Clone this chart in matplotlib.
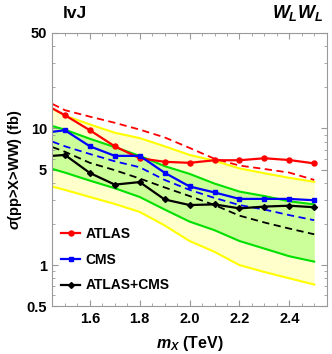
import matplotlib
matplotlib.use("Agg")
import matplotlib.pyplot as plt
from matplotlib.ticker import FixedLocator, NullFormatter, MultipleLocator

plt.rcParams['font.family'] = ['Liberation Sans', 'DejaVu Sans']
plt.rcParams['mathtext.fontset'] = 'custom'
plt.rcParams['mathtext.it'] = 'Liberation Sans:bold:italic'
plt.rcParams['mathtext.rm'] = 'Liberation Sans:bold'
plt.rcParams['mathtext.bf'] = 'Liberation Sans:bold'

# Dados
mass = [1.45, 1.5, 1.6, 1.7, 1.8, 1.9, 2.0, 2.1, 2.2, 2.3, 2.4, 2.5]

atlas_obs = [14.0, 12.5, 9.7, 7.4, 6.05, 5.7, 5.6, 5.85, 5.85, 6.05, 5.87, 5.55]
atlas_exp = [15.1, 13.6, 12.2, 11.0, 9.8, 8.6, 7.2, 6.0, 5.35, 5.05, 4.75, 4.2]
cms_obs = [9.45, 9.7, 7.4, 6.3, 6.3, 4.74, 3.76, 3.4, 3.05, 3.05, 3.05, 2.98]
cms_exp = [8.0, 7.4, 6.5, 5.75, 5.2, 4.2, 3.55, 3.1, 2.75, 2.55, 2.32, 2.13]
comb_obs = [6.3, 6.4, 4.72, 3.88, 4.05, 3.02, 2.75, 2.78, 2.6, 2.68, 2.72, 2.65]
comb_exp = [7.3, 6.75, 5.6, 4.95, 4.3, 3.7, 3.2, 2.75, 2.3, 2.05, 1.85, 1.68]

band2_up = [14.0, 12.4, 10.7, 9.3, 8.5, 7.4, 6.4, 5.8, 5.1, 4.7, 4.35, 4.07]
band1_up = [10.4, 9.8, 8.4, 7.3, 6.3, 5.3, 4.65, 3.95, 3.45, 3.2, 2.93, 2.78]
band1_dn = [5.05, 4.75, 4.15, 3.65, 3.15, 2.55, 2.08, 1.8, 1.5, 1.32, 1.16, 1.06]
band2_dn = [3.75, 3.55, 3.15, 2.8, 2.45, 1.95, 1.5, 1.25, 1.0, 0.89, 0.8, 0.72]

YELLOW_FILL = '#ffffcc'
GREEN_FILL = '#ccff99'
YELLOW_LINE = '#ffff00'
GREEN_LINE = '#00e000'

fig = plt.figure(figsize=(3.32, 3.54), dpi=100)
ax = fig.add_axes([0.158, 0.135, 0.826, 0.772])

# Bandas de 1 e 2 sigma
ax.fill_between(mass, band2_dn, band2_up, color=YELLOW_FILL, lw=0)
ax.fill_between(mass, band1_dn, band1_up, color=GREEN_FILL, lw=0)
for b in (band2_up, band2_dn):
    ax.plot(mass, b, color=YELLOW_LINE, lw=1.5)
for b in (band1_up, band1_dn):
    ax.plot(mass, b, color=GREEN_LINE, lw=1.5)

# Curvas esperadas (tracejadas)
ax.plot(mass, atlas_exp, color='red', lw=1.3, ls=(0, (4, 2.5)))
ax.plot(mass, cms_exp, color='blue', lw=1.3, ls=(0, (4, 2.5)))
ax.plot(mass, comb_exp, color='black', lw=1.3, ls=(0, (4, 2.5)))

# Curvas observadas
series = [
    (atlas_obs, 'red', 'o', 3.6, 'ATLAS'),
    (cms_obs, 'blue', 's', 2.6, 'CMS'),
    (comb_obs, 'black', 'D', 3.0, 'ATLAS+CMS'),
]
for vals, c, m, ms, lab in series:
    ax.plot(mass[:2], vals[:2], color=c, lw=1.6)
    ax.plot(mass[1:], vals[1:], color=c, lw=1.6, marker=m, ms=ms, label=lab)

ax.set_yscale('log')
ax.set_xlim(1.45, 2.55)
ax.set_ylim(0.5, 50)

ax.yaxis.set_major_locator(FixedLocator([0.5, 1, 5, 10, 50]))
ax.set_yticklabels(['0.5', '1', '5', '10', '50'])
minors = [v * d for d in (0.1, 1, 10) for v in range(2, 10)]
ax.yaxis.set_minor_locator(FixedLocator(minors))
ax.yaxis.set_minor_formatter(NullFormatter())
ax.xaxis.set_major_locator(FixedLocator([1.6, 1.8, 2.0, 2.2, 2.4]))
ax.set_xticklabels(['1.6', '1.8', '2.0', '2.2', '2.4'])
ax.xaxis.set_minor_locator(MultipleLocator(0.05))

for s in ax.spines.values():
    s.set_color('#999999')
    s.set_linewidth(0.8)
ax.tick_params(which='both', direction='in', top=True, right=True, color='#999999',
               labelsize=10.5, pad=4)
ax.tick_params(which='major', length=4, width=0.8)
ax.tick_params(which='minor', length=2.5, width=0.6)
for lbl in ax.get_xticklabels() + ax.get_yticklabels():
    lbl.set_fontweight('bold')

ax.set_xlabel(r'$m_X$ (TeV)', fontsize=11.5, fontweight='bold', labelpad=6)
ax.set_ylabel(r'$\sigma$(pp>X>WW) (fb)', fontsize=10.5, fontweight='bold', labelpad=2)

fig.text(0.19, 0.962, 'lvJ', fontsize=12.5, fontweight='bold', va='center', ha='left')
fig.text(0.972, 0.962, r'$W_L W_L$', fontsize=13, va='center', ha='right')

ax.legend(loc='lower left', bbox_to_anchor=(-0.01, 0.01), frameon=False,
          prop={'weight': 'bold', 'size': 10}, handlelength=1.4, handletextpad=0.4,
          labelspacing=0.85, borderaxespad=0.4)

fig.savefig('out.png', dpi=100)
